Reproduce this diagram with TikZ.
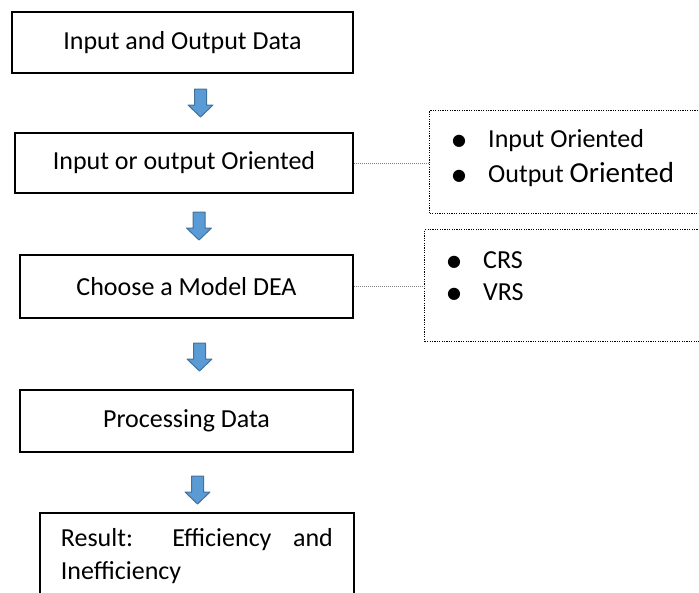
\documentclass[tikz,border=0pt]{standalone}
\usepackage{fontspec}
\setmainfont{Carlito}
\newfontfamily\symfont{DejaVu Sans}
\definecolor{arrowblue}{HTML}{5B9BD5}
\definecolor{arrowedge}{HTML}{41719C}
\newcommand{\bul}{\makebox[36pt][l]{\raisebox{2pt}{\symfont\fontsize{16}{16}\selectfont ●}}}
\begin{document}
\begin{tikzpicture}[x=1pt,y=-1pt,
        font=\fontsize{26}{31}\selectfont,
        stage/.style={draw,line width=1.8pt,inner sep=0pt},
        frame/.style={draw,line width=1.4pt,dash pattern=on 1.2pt off 1.2pt,inner sep=0pt,anchor=north west},
        link/.style={draw=gray,line width=1pt,dash pattern=on 1pt off 1pt},
        item/.style={anchor=base west,inner sep=0pt},
        flow/.style={draw=arrowedge,fill=arrowblue,line width=1pt,line join=round}]
        \useasboundingbox (0,0) rectangle (699,592);
        %% main steps
        \node[stage,minimum width=341pt,minimum height=61pt] (A) at (182.5,42.5) {Input and Output Data};
        \node[stage,minimum width=338pt,minimum height=60pt] (B) at (184,163) {Input or output Oriented};
        \node[stage,minimum width=333pt,minimum height=63pt] (C) at (186.5,286.5) {Choose a Model DEA};
        \node[stage,minimum width=333pt,minimum height=62pt] (D) at (186.5,421) {Processing Data};
        \node[stage,anchor=north west,text width=272pt,align=justify,inner xsep=21pt,inner ysep=16pt,
            font=\fontsize{26}{33}\selectfont] (E) at (39,512)
            {Result: Efficiency and\linebreak Inefficiency};
        %% block arrows between steps
        \foreach \x/\y in {200.5/89,199/212,199.5/343,197.5/476}
            \draw[flow] (\x,\y) ++(-6,0) -- ++(0,16) -- ++(-6.5,0) -- ++(12.5,12)
                -- ++(12.5,-12) -- ++(-6.5,0) -- ++(0,-16) -- cycle;
        %% option frames
        \node[frame,minimum width=301pt,minimum height=103pt] (F) at (429,110) {};
        \node[frame,minimum width=306pt,minimum height=112pt] (G) at (424,229) {};
        \draw[link] (B.east) -- (B.east -| F.west);
        \draw[link] (C.east) -- (C.east -| G.west);
        \node[item] (F1) at (452,147) {\bul Input Oriented};
        \node[item] (F2) at (452,182) {\bul Output {\fontsize{29}{31}\selectfont Oriented}};
        \node[item] (G1) at (447,268) {\bul CRS};
        \node[item] (G2) at (447,300) {\bul VRS};
    \end{tikzpicture}
\end{document}
